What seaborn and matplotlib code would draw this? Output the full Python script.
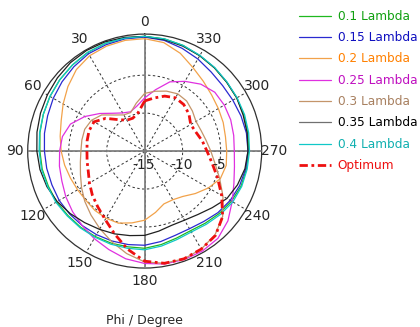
import numpy as np
import pandas as pd
import matplotlib
matplotlib.use("Agg")
import matplotlib.pyplot as plt
import seaborn as sns

# ---------------- data (dB vs Phi in degrees) ----------------
phi_deg = [0, 10, 20, 30, 40, 50, 60, 70, 80, 90, 100, 110, 120, 130, 140, 150, 160, 170,
           180, 190, 200, 210, 220, 230, 240, 250, 260, 270, 280, 290, 300, 310, 320, 330, 340, 350]

l010 = [0.1, 0.1, 0.1, 0.0, -0.2, -0.4, -0.6, -0.8, -1.0, -1.2, -1.3, -1.5, -1.6, -1.8, -1.9, -2.0, -2.1, -2.2,
        -2.2, -2.5, -2.8, -2.9, -2.6, -2.2, -1.8, -1.5, -1.4, -1.3, -1.2, -1.1, -1.0, -0.9, -0.7, -0.5, -0.2, 0.0]
l015 = [0.0, 0.0, -0.1, -0.2, -0.5, -0.8, -1.1, -1.4, -1.6, -1.8, -1.9, -2.0, -2.0, -2.1, -2.2, -2.3, -2.4, -2.5,
        -2.6, -2.9, -3.2, -3.2, -2.9, -2.4, -2.0, -1.7, -1.5, -1.4, -1.4, -1.5, -1.6, -1.6, -1.4, -1.0, -0.6, -0.2]
l020 = [-0.2, -0.2, -0.3, -0.5, -1.0, -1.8, -2.6, -3.3, -3.7, -4.0, -4.3, -4.6, -4.8, -4.9, -4.8, -4.8, -4.9, -5.4,
        -5.9, -6.8, -7.6, -7.6, -7.2, -6.3, -5.3, -4.4, -4.1, -4.2, -4.2, -4.0, -3.8, -3.5, -3.0, -2.3, -1.3, -0.5]
l025 = [-8.0, -9.0, -9.5, -9.2, -8.5, -7.3, -5.9, -4.6, -4.0, -3.8, -3.6, -3.4, -3.0, -2.6, -2.2, -1.7, -1.2, -0.6,
        -0.2, 0.1, 0.2, 0.2, 0.0, -0.7, -1.7, -2.5, -3.0, -3.2, -3.1, -2.95, -2.9, -2.95, -3.5, -4.4, -5.3, -6.8]
l030 = [-7.4, -8.6, -9.6, -9.5, -8.8, -7.6, -6.9, -6.6, -6.6, -6.6, -6.4, -6.0, -5.4, -4.7, -4.0, -3.2, -2.3, -1.3,
        -0.4, 0.0, 0.1, -0.1, -0.6, -1.6, -3.1, -4.5, -5.6, -6.3, -6.8, -7.1, -7.2, -6.8, -6.4, -6.3, -6.6, -7.0]
l035 = [0.1, 0.2, 0.3, 0.3, 0.2, 0.0, -0.2, -0.4, -0.6, -0.8, -1.0, -1.3, -1.7, -2.2, -2.7, -3.1, -3.4, -3.7,
        -3.9, -4.3, -4.6, -4.5, -4.1, -3.4, -2.5, -2.0, -1.6, -1.4, -1.3, -1.2, -1.0, -0.9, -0.7, -0.5, -0.3, -0.1]
l040 = [0.1, 0.1, 0.1, 0.0, -0.2, -0.4, -0.6, -0.8, -0.95, -1.1, -1.2, -1.4, -1.5, -1.7, -1.8, -1.9, -1.95, -2.0,
        -2.0, -2.3, -2.6, -2.7, -2.4, -2.0, -1.6, -1.4, -1.3, -1.2, -1.1, -1.0, -0.95, -0.85, -0.65, -0.45, -0.2, 0.0]
optimum = [-8.4, -9.9, -10.4, -10.3, -9.6, -8.3, -7.3, -7.2, -7.3, -7.4, -7.3, -7.1, -6.6, -6.0, -5.4, -4.6, -3.4, -1.9,
           -0.5, 0.0, 0.1, -0.1, -0.5, -1.6, -3.3, -4.8, -6.0, -6.8, -7.3, -7.8, -8.0, -7.4, -7.0, -6.9, -7.3, -7.9]

series_names = ["0.1 Lambda", "0.15 Lambda", "0.2 Lambda", "0.25 Lambda",
                "0.3 Lambda", "0.35 Lambda", "0.4 Lambda", "Optimum"]
series_vals = [l010, l015, l020, l025, l030, l035, l040, optimum]
line_colors = ["#1fb81f", "#2a2ad0", "#f2a24a", "#e030e0", "#c4956a", "#202020", "#10c8c8", "#ee1010"]
text_colors = ["#10a010", "#1010c0", "#ff8000", "#c010c0", "#a88060", "#000000", "#10b0b0", "#ee1010"]

angle_ticks = list(range(0, 360, 30))
r_ticks = [-15, -10, -5]

# ---------------- figure ----------------
sns.set_style("white")
plt.rcParams["font.family"] = ["DejaVu Sans"]

fig = plt.figure(figsize=(4.2, 3.27), dpi=100)
ax = fig.add_axes([0.066, 0.180, 0.557, 0.716], projection="polar")
ax.set_theta_zero_location("N")
ax.set_theta_direction(1)
ax.set_ylim(-15, 0.4)

handles = []
for name, vals, col in zip(series_names, series_vals, line_colors):
    th = np.deg2rad(np.array(phi_deg + [phi_deg[0] + 360], dtype=float))
    rr = np.array(vals + [vals[0]], dtype=float)
    df = pd.DataFrame({"theta": th, "r": rr})
    if name == "Optimum":
        sns.lineplot(data=df, x="theta", y="r", ax=ax, sort=False, estimator=None,
                     color=col, lw=2.0, zorder=5)
        ln = ax.lines[-1]
        ln.set_dashes([3, 1.3, 1, 1.3])
    else:
        sns.lineplot(data=df, x="theta", y="r", ax=ax, sort=False, estimator=None,
                     color=col, lw=0.9, zorder=4)
        ln = ax.lines[-1]
    handles.append(ln)

# grid
ax.set_xticks(np.deg2rad(angle_ticks))
ax.set_xticklabels([str(a) for a in angle_ticks], fontsize=10)
ax.tick_params(axis="x", pad=-1.5)
ax.set_yticks(r_ticks)
ax.set_yticklabels([])
ax.grid(True, color="#303030", linestyle=(0, (2.5, 2.5)), lw=0.7)
ax.set_xlabel("")
ax.set_ylabel("")
ax.spines["polar"].set_color("#303030")
ax.spines["polar"].set_linewidth(0.9)
for a in [0, 90, 180, 270]:
    ax.axvline(np.deg2rad(a), color="#808080", lw=1.3, zorder=3)

# radial labels
for v in r_ticks:
    ax.annotate(str(v), xy=(np.deg2rad(270), v), xytext=(-1, -10), textcoords="offset points",
                ha="center", va="center", fontsize=10, zorder=6)

fig.text(0.345, 0.021, "Phi / Degree", ha="center", va="center", fontsize=9)

leg = fig.legend(handles, series_names, loc="upper left", bbox_to_anchor=(0.712, 0.970),
                 frameon=False, fontsize=8.7, handlelength=2.65, handletextpad=0.55,
                 labelspacing=0.69, borderpad=0, borderaxespad=0)
for t, c in zip(leg.get_texts(), text_colors):
    t.set_color(c)
leg.get_lines()[5].set_color("#707070")

fig.savefig("out.png", dpi=100)
